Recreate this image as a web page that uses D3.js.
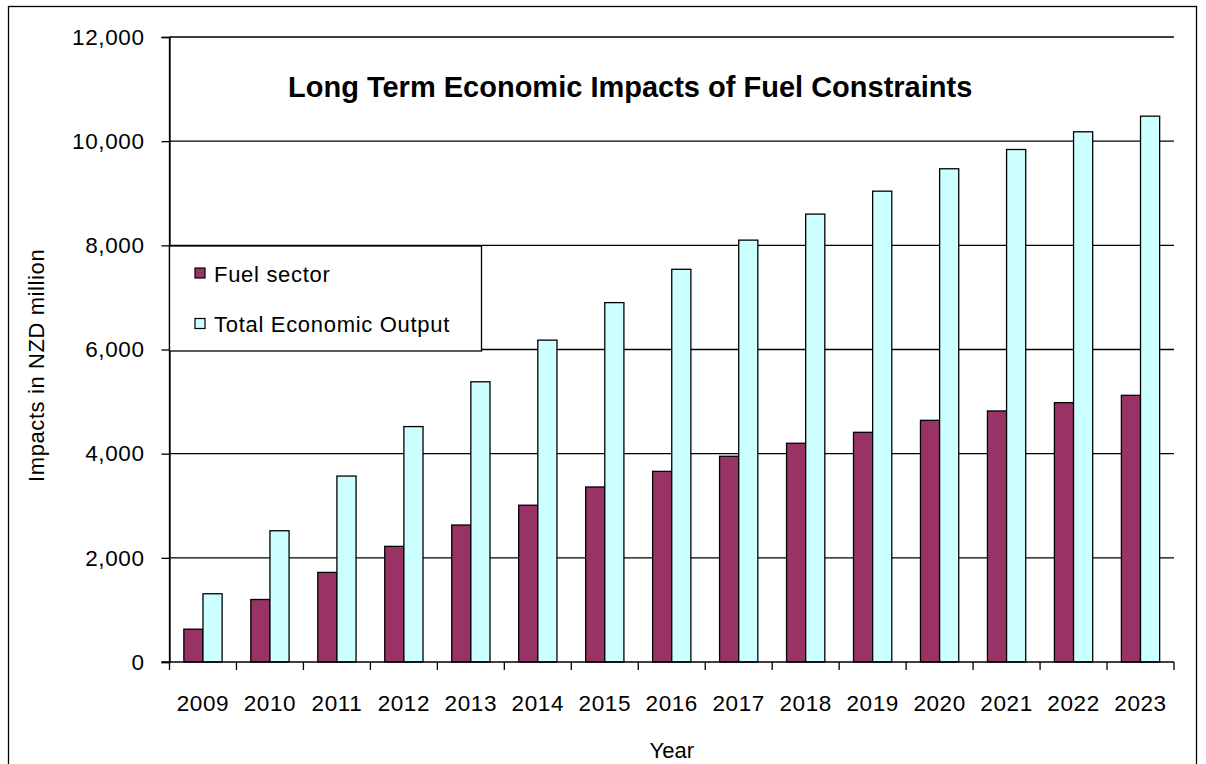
<!DOCTYPE html>
<html>
<head>
<meta charset="utf-8">
<script src="https://cdn.jsdelivr.net/npm/d3@7/dist/d3.min.js"></script>
<style>
  html, body { margin: 0; padding: 0; background: #fff; }
  svg { display: block; font-family: "Liberation Sans", Arial, sans-serif; }
</style>
</head>
<body>
<svg id="chart" width="1206" height="764"></svg>
<script>
// Chart data
const years = ["2009","2010","2011","2012","2013","2014","2015","2016","2017","2018","2019","2020","2021","2022","2023"];
const seriesNames = ["Fuel sector", "Total Economic Output"];
const fuelSector = [630, 1200, 1720, 2220, 2630, 3010, 3360, 3660, 3950, 4200, 4410, 4640, 4820, 4980, 5120];
const totalOutput = [1310, 2520, 3570, 4520, 5380, 6180, 6900, 7540, 8100, 8600, 9040, 9470, 9840, 10180, 10480];
const yTicks = [0, 2000, 4000, 6000, 8000, 10000, 12000];
const seriesColors = ["#993366", "#CCFFFF"];

const svg = d3.select("#chart");

// Outer chart border
svg.append("rect")
  .attr("x", 8.5).attr("y", 6.5)
  .attr("width", 1188).attr("height", 780)
  .attr("fill", "#fff").attr("stroke", "#000").attr("stroke-width", 1.3);

const plot = { left: 169.5, right: 1174, top: 37, bottom: 662 };

const y = d3.scaleLinear().domain([0, 12000]).range([plot.bottom, plot.top]);
const x0 = d3.scaleBand().domain(years).range([plot.left, plot.right])
  .paddingInner(1.5 / 3.5).paddingOuter(0.75 / 3.5);
const x1 = d3.scaleBand().domain(seriesNames).range([0, x0.bandwidth()]);

const rows = years.map((yr, i) => ({ year: yr, values: [fuelSector[i], totalOutput[i]] }));

// Horizontal gridlines
svg.append("g")
  .selectAll("line")
  .data(yTicks.filter(d => d > 0))
  .join("line")
  .attr("x1", plot.left).attr("x2", plot.right)
  .attr("y1", d => y(d)).attr("y2", d => y(d))
  .attr("stroke", "#000").attr("stroke-width", 1.3);

// Bars
svg.append("g")
  .selectAll("g")
  .data(rows)
  .join("g")
  .attr("transform", d => `translate(${x0(d.year)},0)`)
  .selectAll("rect")
  .data(d => d.values.map((v, k) => ({ name: seriesNames[k], value: v, k })))
  .join("rect")
  .attr("x", d => x1(d.name))
  .attr("width", x1.bandwidth())
  .attr("y", d => y(d.value))
  .attr("height", d => y(0) - y(d.value))
  .attr("fill", d => seriesColors[d.k])
  .attr("stroke", "#000").attr("stroke-width", 1.3);

// Y axis
const yAxis = svg.append("g")
  .attr("transform", `translate(${plot.left},0)`)
  .call(d3.axisLeft(y).tickValues(yTicks).tickFormat(d3.format(",")).tickSize(8).tickPadding(17));
yAxis.select(".domain").attr("stroke", "#000").attr("stroke-width", 1.3);
yAxis.selectAll(".tick line").attr("stroke", "#000").attr("stroke-width", 1.3);
yAxis.selectAll("text").attr("font-size", 22.5).attr("fill", "#000")
  .attr("font-family", "'Liberation Sans', Arial, sans-serif").attr("letter-spacing", 0.6);

// X axis: ticks sit on the category boundaries
const xAxisG = svg.append("g").attr("transform", `translate(0,${plot.bottom})`);
xAxisG.append("line")
  .attr("x1", plot.left - 8).attr("x2", plot.right)
  .attr("stroke", "#000").attr("stroke-width", 1.3);
const step = x0.step();
const boundaries = d3.range(years.length + 1).map(i => plot.left + i * step);
xAxisG.selectAll("line.tk")
  .data(boundaries)
  .join("line").attr("class", "tk")
  .attr("x1", d => d).attr("x2", d => d)
  .attr("y1", 0).attr("y2", 8)
  .attr("stroke", "#000").attr("stroke-width", 1.3);
xAxisG.selectAll("text")
  .data(years)
  .join("text")
  .attr("x", d => x0(d) + x0.bandwidth() / 2)
  .attr("y", 49)
  .attr("text-anchor", "middle")
  .attr("font-size", 22.5).attr("letter-spacing", 0.6)
  .text(d => d);

// Y axis line drawn last so it sits over gridline ends
svg.append("line")
  .attr("x1", plot.left).attr("x2", plot.left)
  .attr("y1", plot.top).attr("y2", plot.bottom)
  .attr("stroke", "#000").attr("stroke-width", 1.3);

// Axis titles
svg.append("text")
  .attr("x", (plot.left + plot.right) / 2).attr("y", 758)
  .attr("text-anchor", "middle").attr("font-size", 22)
  .text("Year");

svg.append("text")
  .attr("transform", "translate(44,482) rotate(-90)")
  .attr("text-anchor", "start").attr("font-size", 22).attr("letter-spacing", 0.6)
  .text("Impacts in NZD  million");

// Chart title
svg.append("text")
  .attr("x", 288).attr("y", 96.5)
  .attr("font-size", 29).attr("font-weight", "bold")
  .text("Long Term Economic Impacts of Fuel Constraints");

// Legend
const legend = svg.append("g");
legend.append("rect")
  .attr("x", 169.5).attr("y", 246).attr("width", 312).attr("height", 105)
  .attr("fill", "#fff").attr("stroke", "#000").attr("stroke-width", 1.3);
const entries = legend.selectAll("g.entry")
  .data(seriesNames)
  .join("g").attr("class", "entry")
  .attr("transform", (d, i) => `translate(195,${268 + i * 50.5})`);
entries.append("rect")
  .attr("width", 10).attr("height", 10)
  .attr("fill", (d, i) => seriesColors[i])
  .attr("stroke", "#000").attr("stroke-width", 1.2);
entries.append("text")
  .attr("x", 19).attr("y", 13.7)
  .attr("font-size", 22).attr("letter-spacing", 0.7)
  .text(d => d);
</script>
</body>
</html>
